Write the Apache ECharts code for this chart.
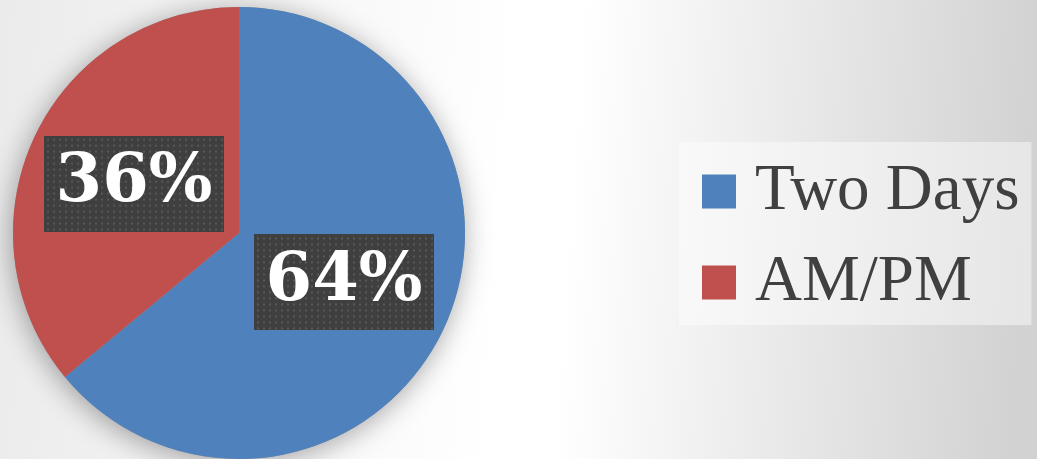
<!DOCTYPE html>
<html><head><meta charset="utf-8">
<script src="https://cdn.jsdelivr.net/npm/echarts@6/dist/echarts.min.js"></script>
<style>html,body{margin:0;padding:0;overflow:hidden;}#c{width:1037px;height:459px;}</style>
</head><body><div id="c"></div>
<script>
const categories = ['Two Days', 'AM/PM'];
const values = [64, 36];
const colors = ['#4F81BD', '#C0504D'];

function dotted(w, h) {
  const c = document.createElement('canvas');
  c.width = w; c.height = h;
  const g = c.getContext('2d');
  g.fillStyle = '#3f3f3f';
  g.fillRect(0, 0, w, h);
  g.fillStyle = '#585858';
  for (let y = 3; y < h; y += 6) {
    for (let x = 3; x < w; x += 6) g.fillRect(x, y, 2, 2);
  }
  return c;
}
const pattern = dotted(180, 96);

const chart = echarts.init(document.getElementById('c'));
chart.setOption({
  animation: false,
  backgroundColor: {
    type: 'linear', x: 0, y: 0, x2: 1, y2: 0.15,
    colorStops: [
      { offset: 0, color: '#ebebeb' },
      { offset: 0.5, color: '#ffffff' },
      { offset: 0.56, color: '#ffffff' },
      { offset: 1, color: '#d2d2d2' }
    ]
  },
  legend: {
    orient: 'vertical',
    left: 679, top: 142,
    width: 318,
    padding: [17, 12, 10, 23],
    backgroundColor: 'rgba(255,255,255,0.45)',
    itemWidth: 34, itemHeight: 34, itemGap: 26,
    icon: 'rect',
    selectedMode: false,
    data: categories,
    textStyle: {
      fontFamily: 'Liberation Serif', fontSize: 65, color: '#404040',
      lineHeight: 60, padding: [0, 0, 0, 14]
    }
  },
  series: [
    {
      type: 'pie', silent: true, z: 1,
      center: [239, 233], radius: 226,
      label: { show: false }, labelLine: { show: false },
      itemStyle: {
        color: '#9a9a9a', shadowBlur: 28, shadowColor: 'rgba(0,0,0,0.35)',
        shadowOffsetX: -2, shadowOffsetY: 4
      },
      data: [{ value: 1, name: '' }]
    },
    {
      type: 'pie', z: 2,
      center: [239, 233], radius: 226,
      startAngle: 90, clockwise: true,
      emphasis: { disabled: true },
      itemStyle: { borderWidth: 0 },
      label: {
        show: true, position: 'inside',
        formatter: p => p.value + '%',
        fontFamily: 'DejaVu Serif', fontWeight: 'bold', fontSize: 67,
        color: '#ffffff', align: 'center', verticalAlign: 'middle',
        overflow: 'none',
        lineHeight: 70, width: 170, height: 70, padding: [21, 5, 5, 5],
        backgroundColor: { image: pattern },
        shadowBlur: 6, shadowColor: 'rgba(0,0,0,0.55)',
        shadowOffsetX: 3, shadowOffsetY: 3
      },
      labelLine: { show: false },
      data: categories.map((n, i) => ({ name: n, value: values[i], itemStyle: { color: colors[i] } }))
    }
  ]
});
</script></body></html>
